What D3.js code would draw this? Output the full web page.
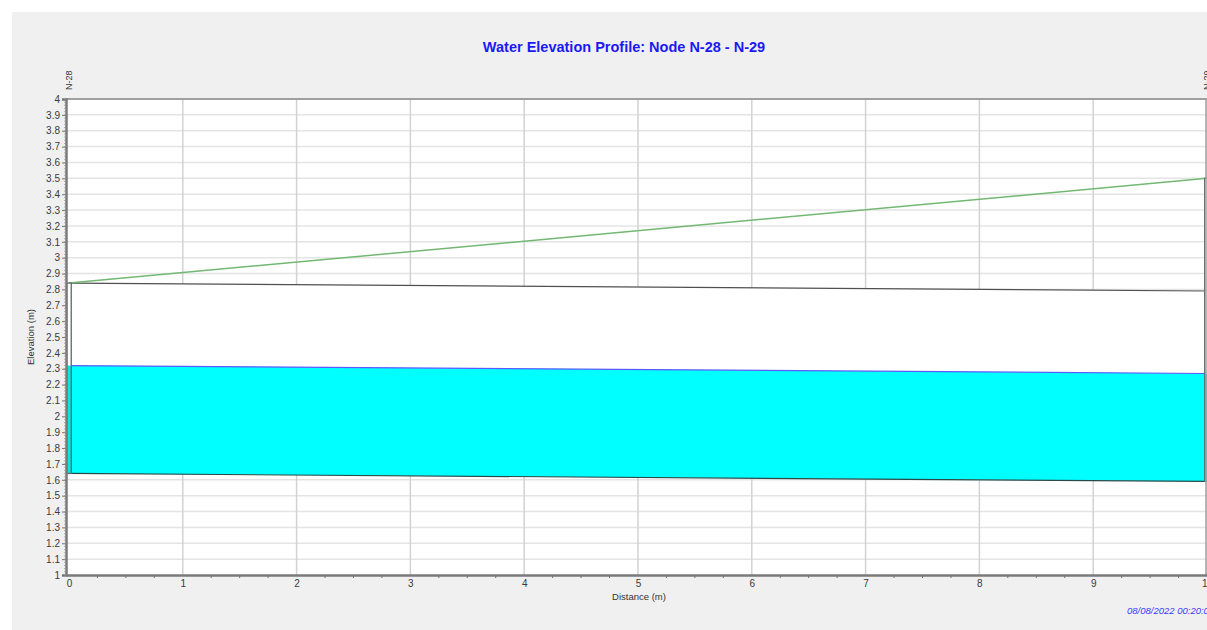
<!DOCTYPE html>
<html>
<head>
<meta charset="utf-8">
<script src="https://cdn.jsdelivr.net/npm/d3@7"></script>
<style>
  html, body { margin: 0; padding: 0; background: #ffffff; }
  svg { display: block; font-family: "Liberation Sans", Arial, sans-serif; }
</style>
</head>
<body>
<svg id="chart" width="1207" height="630"></svg>
<script>
// Profile between the two nodes (distance in m, elevations in m)
const nodeNames = ["N-28", "N-29"];
const nodeDistance = [0, 10];
const groundElev = [2.84, 3.50];
const crownElev = [2.84, 2.79];
const waterElev = [2.32, 2.27];
const invertElev = [1.64, 1.59];
const timeStamp = "08/08/2022 00:20:00";

// Axis ticks
const xTickValues = [0, 1, 2, 3, 4, 5, 6, 7, 8, 9, 10];
const yTickValues = d3.range(10, 41).map(d => d / 10);

const W = 1207, H = 630;
const svg = d3.select("#chart");

// panel background
svg.append("rect").attr("x", 12).attr("y", 12).attr("width", W - 12).attr("height", H - 12)
  .attr("fill", "#f0f0f0");

const plotL = 66, plotR = 1207, plotT = 99, plotB = 575;
const x = d3.scaleLinear().domain([-0.026, 10]).range([plotL, plotR]);
const y = d3.scaleLinear().domain([1, 4]).range([plotB, plotT]);

// plot area
svg.append("rect").attr("x", plotL).attr("y", plotT).attr("width", plotR - plotL).attr("height", plotB - plotT)
  .attr("fill", "#ffffff");

const defs = svg.append("defs");
defs.append("clipPath").attr("id", "plotClip").append("rect")
  .attr("x", plotL).attr("y", plotT).attr("width", plotR - plotL).attr("height", plotB - plotT);

const grid = svg.append("g");
grid.selectAll("line.h").data(yTickValues.filter(v => v > 1 && v < 4)).join("line")
  .attr("x1", plotL).attr("x2", plotR).attr("y1", d => y(d)).attr("y2", d => y(d))
  .attr("stroke", "#e4e4e4").attr("stroke-width", 1.5);
grid.selectAll("line.v").data(xTickValues.filter(v => v > 0)).join("line")
  .attr("x1", d => x(d)).attr("x2", d => x(d)).attr("y1", plotT).attr("y2", plotB)
  .attr("stroke", "#d2d2d2").attr("stroke-width", 1.5);

const plot = svg.append("g").attr("clip-path", "url(#plotClip)");
const segs = nodeDistance.map((d, i) => ({ d, g: groundElev[i], c: crownElev[i], w: waterElev[i], inv: invertElev[i] }));

// pipe body (empty part)
plot.append("path").datum(segs)
  .attr("d", d3.area().x(p => x(p.d)).y0(p => y(p.inv)).y1(p => y(p.c)))
  .attr("fill", "#ffffff");
// water in the pipe
plot.append("path").datum(segs)
  .attr("d", d3.area().x(p => x(p.d)).y0(p => y(p.inv)).y1(p => y(p.w)))
  .attr("fill", "#00ffff");

const line = acc => d3.line().x(p => x(p.d)).y(p => y(acc(p)));
plot.append("path").datum(segs).attr("d", line(p => p.c))
  .attr("fill", "none").attr("stroke", "#505050").attr("stroke-width", 1.2);
plot.append("path").datum(segs).attr("d", line(p => p.inv))
  .attr("fill", "none").attr("stroke", "#2a4a4a").attr("stroke-width", 1.2);
plot.append("path").datum(segs).attr("d", line(p => p.w))
  .attr("fill", "none").attr("stroke", "#5a5aff").attr("stroke-width", 1.2);
plot.append("path").datum(segs).attr("d", line(p => p.g))
  .attr("fill", "none").attr("stroke", "#72b872").attr("stroke-width", 1.5);

// manholes at the nodes
const halfW = 0.02;
const mh = plot.selectAll("g.node").data(segs).join("g");
mh.append("rect")
  .attr("x", p => x(p.d - halfW)).attr("width", p => x(p.d + halfW) - x(p.d - halfW))
  .attr("y", p => y(p.g)).attr("height", p => y(p.inv) - y(p.g))
  .attr("fill", "#ffffff");
mh.append("rect")
  .attr("x", p => x(p.d - halfW)).attr("width", p => x(p.d + halfW) - x(p.d - halfW))
  .attr("y", p => y(p.w)).attr("height", p => y(p.inv) - y(p.w))
  .attr("fill", "#00e8e8");
mh.append("rect")
  .attr("x", p => x(p.d - halfW)).attr("width", p => x(p.d + halfW) - x(p.d - halfW))
  .attr("y", p => y(p.g)).attr("height", p => y(p.inv) - y(p.g))
  .attr("fill", "none").attr("stroke", "#5a6a6a").attr("stroke-width", 1.3);

// frame
svg.append("line").attr("x1", plotL).attr("x2", plotR).attr("y1", plotT).attr("y2", plotT)
  .attr("stroke", "#a0a0a0").attr("stroke-width", 2);
svg.append("line").attr("x1", plotR - 1).attr("x2", plotR - 1).attr("y1", plotT).attr("y2", plotB)
  .attr("stroke", "#a0a0a0").attr("stroke-width", 1.5);

// y axis
const yAxis = svg.append("g").attr("transform", `translate(${plotL},0)`)
  .call(d3.axisLeft(y).tickValues(yTickValues).tickFormat(d3.format("~g")).tickSize(4).tickPadding(2));
yAxis.select(".domain").attr("stroke", "#7a7a7a").attr("stroke-width", 2.5);
yAxis.selectAll(".tick line").attr("stroke", "#707070");
yAxis.selectAll("text").attr("font-size", 10).attr("fill", "#3a3a3a")
  .attr("font-family", "Liberation Sans, Arial, sans-serif");
// minor ticks
svg.append("g").selectAll("line").data(d3.range(100, 401, 2).map(v => v / 100)).join("line")
  .attr("x1", plotL - 2).attr("x2", plotL).attr("y1", d => y(d)).attr("y2", d => y(d))
  .attr("stroke", "#9a9a9a").attr("stroke-width", 0.8);

// x axis
const xAxis = svg.append("g").attr("transform", `translate(0,${plotB})`)
  .call(d3.axisBottom(x).tickValues(xTickValues).tickFormat(d3.format("d")).tickSize(0).tickPadding(5));
xAxis.select(".domain").attr("stroke", "#7a7a7a").attr("stroke-width", 2.5);
xAxis.selectAll("text").attr("font-size", 10).attr("fill", "#3a3a3a")
  .attr("font-family", "Liberation Sans, Arial, sans-serif");
svg.append("g").selectAll("line").data(d3.range(0, 41).map(v => v / 4).filter(v => v % 1 !== 0)).join("line")
  .attr("x1", d => x(d)).attr("x2", d => x(d)).attr("y1", plotB + 1).attr("y2", plotB + 3)
  .attr("stroke", "#707070").attr("stroke-width", 1);

// axis titles
svg.append("text").attr("x", 639).attr("y", 600).attr("text-anchor", "middle")
  .attr("font-size", 9.5).attr("fill", "#333").text("Distance (m)");
svg.append("text").attr("transform", `translate(34,${(plotT + plotB) / 2}) rotate(-90)`)
  .attr("text-anchor", "middle").attr("font-size", 9.5).attr("fill", "#333").text("Elevation (m)");

// node labels above the plot
svg.append("g").selectAll("text").data(nodeNames).join("text")
  .attr("transform", (d, i) => `translate(${x(nodeDistance[i]) + 3},${plotT - 9}) rotate(-90)`)
  .attr("font-size", 9).attr("fill", "#333").text(d => d);

// title
svg.append("text").attr("x", 624).attr("y", 52).attr("text-anchor", "middle")
  .attr("font-size", 14.5).attr("font-weight", "bold").attr("fill", "#1a1af5")
  .text("Water Elevation Profile: Node N-28 - N-29");

// time stamp
svg.append("text").attr("x", 1127).attr("y", 614).attr("font-size", 9.5).attr("font-style", "italic")
  .attr("fill", "#3b3bff").text(timeStamp);
</script>
</body>
</html>
